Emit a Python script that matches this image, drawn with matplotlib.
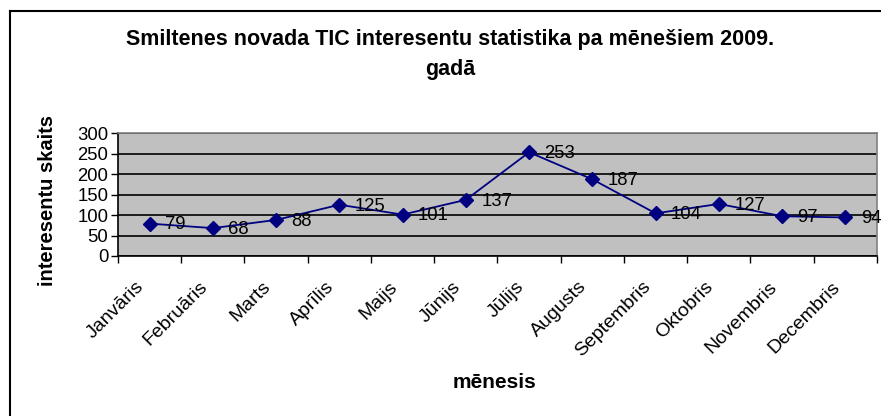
import matplotlib.pyplot as plt
from matplotlib.lines import Line2D
from matplotlib.transforms import ScaledTranslation

menesi = ['Janvāris', 'Februāris', 'Marts', 'Aprīlis', 'Maijs', 'Jūnijs',
          'Jūlijs', 'Augusts', 'Septembris', 'Oktobris', 'Novembris', 'Decembris']
interesenti = [79, 68, 88, 125, 101, 137, 253, 187, 104, 127, 97, 94]
y_ticks = [0, 50, 100, 150, 200, 250, 300]

plt.rcParams['font.family'] = ['Liberation Sans', 'DejaVu Sans']

fig = plt.figure(figsize=(8.81, 4.16), dpi=100)
ax = fig.add_axes([118 / 881, 1 - 256 / 416, 759 / 881, 123 / 416])
ax.set_facecolor('#C0C0C0')

x = list(range(len(menesi)))
ax.plot(x, interesenti, color='#000080', linewidth=1.3, marker='D',
        markersize=7, markerfacecolor='#000080', markeredgecolor='#000080',
        zorder=3, clip_on=False)

for i, v in enumerate(interesenti):
    ax.annotate(str(v), (i, v), xytext=(11, -1), textcoords='offset points',
                ha='left', va='center', fontsize=13.3, zorder=4,
                annotation_clip=False)

ax.set_xlim(-0.5, len(menesi) - 0.5)
ax.set_ylim(0, 300)
ax.set_yticks(y_ticks)
ax.set_yticklabels([str(t) for t in y_ticks], fontsize=13.3)
ax.yaxis.grid(True, color='black', linewidth=1.2)
ax.set_axisbelow(True)

# kategoriju robežas kā ērces, nosaukumi starp tām
ax.set_xticks([i - 0.5 for i in range(len(menesi) + 1)])
ax.set_xticklabels([])
ax.set_xticks(x, minor=True)
ax.set_xticklabels(menesi, minor=True, rotation=45, ha='right',
                   rotation_mode='anchor', fontsize=14)
ax.tick_params(axis='x', which='major', length=5, width=1, color='black')
ax.tick_params(axis='x', which='minor', length=0, pad=16)
ax.tick_params(axis='y', length=5, width=1, pad=2)
nobide = ScaledTranslation(-14 / 100, 0, fig.dpi_scale_trans)
for lbl in ax.get_xticklabels(minor=True):
    lbl.set_transform(lbl.get_transform() + nobide)

for side in ['top', 'right']:
    ax.spines[side].set_color('#808080')
    ax.spines[side].set_linewidth(1.2)
for side in ['left', 'bottom']:
    ax.spines[side].set_color('black')
    ax.spines[side].set_linewidth(1.2)

fig.text(48 / 881, 1 - 200 / 416, 'interesentu skaits', rotation=90,
         ha='center', va='center', fontsize=14.5, fontweight='bold')
fig.text(495 / 881, 1 - 383 / 416, 'mēnesis', ha='center', va='center',
         fontsize=15, fontweight='bold')

fig.text(450 / 881, 1 - 40 / 416, 'Smiltenes novada TIC interesentu statistika pa mēnešiem 2009.',
         ha='center', va='center', fontsize=15.5, fontweight='bold')
fig.text(450 / 881, 1 - 70 / 416, 'gadā', ha='center', va='center',
         fontsize=15.5, fontweight='bold')

# rāmja kreisā un augšējā mala
fig.add_artist(Line2D([9.5 / 881, 9.5 / 881], [0, 1 - 11 / 416],
                      transform=fig.transFigure, color='black', linewidth=1.5))
fig.add_artist(Line2D([9.5 / 881, 1], [1 - 11 / 416, 1 - 11 / 416],
                      transform=fig.transFigure, color='black', linewidth=1.5))

fig.savefig('out.png', dpi=100)
